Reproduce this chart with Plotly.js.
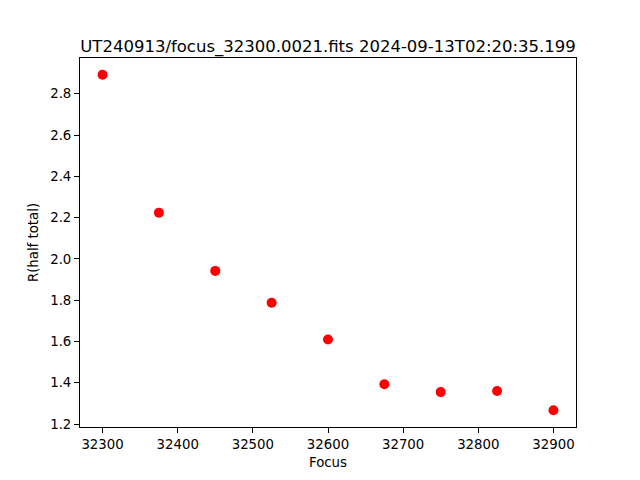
<!DOCTYPE html>
<html>
<head>
<script src="https://cdn.plot.ly/plotly-3.0.1.min.js"></script>
<style>html,body{margin:0;padding:0;background:#fff;}</style>
</head>
<body>
<div id="chart" style="width:640px;height:480px;"></div>
<script>
const focus = [32300, 32375, 32450, 32525, 32600, 32675, 32750, 32825, 32900];
const rHalfTotal = [2.892, 2.224, 1.942, 1.788, 1.610, 1.393, 1.355, 1.360, 1.267];
const xTicks = [32300, 32400, 32500, 32600, 32700, 32800, 32900];
const yTicks = [1.2, 1.4, 1.6, 1.8, 2.0, 2.2, 2.4, 2.6, 2.8];
const titleText = "UT240913/focus_32300.0021.fits 2024-09-13T02:20:35.199";

const font = {family: "DejaVu Sans, sans-serif", size: 13.3, color: "#000"};
const axisCommon = {
  showgrid: false, zeroline: false, showline: true, mirror: true,
  linecolor: "#000", linewidth: 1, ticks: "outside", ticklen: 5,
  tickwidth: 1, tickcolor: "#000", tickfont: font, tickmode: "array"
};

Plotly.newPlot("chart", [{
  x: focus, y: rHalfTotal, type: "scatter", mode: "markers",
  marker: {color: "#ff0000", size: 10}
}], {
  width: 640, height: 480,
  margin: {l: 80, r: 64, t: 58, b: 53},
  paper_bgcolor: "#fff", plot_bgcolor: "#fff",
  font: font, showlegend: false,
  title: {text: titleText, font: {family: "DejaVu Sans, sans-serif", size: 16.5, color: "#000"},
          x: 0.5, xref: "paper", xanchor: "center", y: 1, yref: "paper", yanchor: "bottom", pad: {b: 6}},
  xaxis: Object.assign({}, axisCommon, {range: [32270, 32930], tickvals: xTicks,
    ticktext: xTicks.map(String),
    title: {text: "Focus", font: font, standoff: 6}}),
  yaxis: Object.assign({}, axisCommon, {range: [1.186, 2.973], tickvals: yTicks,
    ticktext: yTicks.map(v => v.toFixed(1)),
    title: {text: "R(half total)", font: font, standoff: 8}})
}, {displayModeBar: false, staticPlot: true});
</script>
</body>
</html>
